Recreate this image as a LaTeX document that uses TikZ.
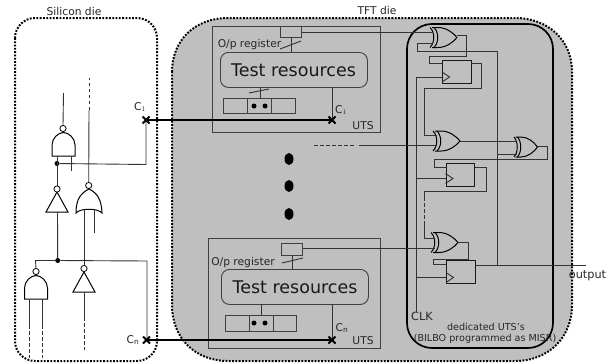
\documentclass[tikz,border=0pt]{standalone}
\usepackage{fontspec}
\setmainfont{DejaVu Sans}
\tikzset{
 wire/.style={draw=black!80,line width=0.9pt},
 gateline/.style={draw=black,line width=1pt},
 thickwire/.style={draw=black,line width=1.7pt},
 dashwire/.style={draw=black!80,line width=0.9pt,dash pattern=on 3.5pt off 2.5pt},
 dieline/.style={draw=black,line width=2pt,dash pattern=on 1.8pt off 1.5pt},
 boxed/.style={draw=black!75,line width=0.9pt,inner sep=0pt,anchor=north west},
 flipflop/.style={draw=black!90,line width=0.9pt,inner sep=0pt,anchor=north west,minimum width=28.5pt,minimum height=23pt},
 lbl/.style={inner sep=0pt,text=black!85,font=\fontsize{10.7pt}{12pt}\selectfont},
 small/.style={inner sep=0pt,text=black!85,font=\fontsize{9.6pt}{11pt}\selectfont},
 mid/.style={inner sep=0pt,text=black!85,font=\fontsize{11.3pt}{13pt}\selectfont},
 big/.style={inner sep=0pt,text=black!90,font=\fontsize{17.5pt}{19pt}\selectfont},
 dotj/.style={fill=black,draw=none,circle,minimum size=5pt,inner sep=0pt},
 smalldot/.style={fill=black,draw=none,circle,minimum size=5pt,inner sep=0pt},
 bubble/.style={draw=black,fill=white,line width=0.8pt,circle,minimum size=6.2pt,inner sep=0pt},
 xorgate/.pic={
  \draw[gateline] (0,-10) .. controls (5,-5) and (5,5) .. (0,10);
  \draw[gateline] (4,-10) .. controls (9,-5) and (9,5) .. (4,10);
  \draw[gateline] (2,-10) -- (8,-10) .. controls (16,-10) and (23,-5) .. (27,0) .. controls (23,5) and (16,10) .. (8,10) -- (2,10);
 },
 nandup/.pic={
  \draw[gateline] (-11.5,12) -- (-11.5,1) .. controls (-11.5,-6) and (-5,-11.5) .. (0,-11.5) .. controls (5,-11.5) and (11.5,-6) .. (11.5,1) -- (11.5,12) -- cycle;
 },
 norup/.pic={
  \draw[gateline] (0,-12) .. controls (8,-8) and (12.5,-2) .. (13,12) .. controls (9,7) and (-9,7) .. (-13,12) .. controls (-13,-2) and (-8,-8) .. (0,-12) -- cycle;
 },
 invup/.pic={
  \draw[gateline] (0,-10) -- (11,10) -- (-11,10) -- cycle;
 },
 clocktri/.pic={
  \draw[wire] (0,-5) -- (7.5,0) -- (0,5);
 },
 xcross/.pic={
  \draw[draw=black,line width=1.8pt] (-3.5,-3.5) -- (3.5,3.5) (-3.5,3.5) -- (3.5,-3.5);
 }
}
\begin{document}
\begin{tikzpicture}[x=1pt,y=-1pt]
\useasboundingbox (0,0) rectangle (611,364);
% dies
\path[fill=black!25] (172,72) .. controls (172,40) and (195,18) .. (228,18) -- (515,18) .. controls (548,18) and (572,40) .. (572,72) -- (572,305) .. controls (572,338) and (548,361) .. (515,361) -- (228,361) .. controls (195,361) and (172,338) .. (172,305) -- cycle;
\draw[dieline] (172,72) .. controls (172,40) and (195,18) .. (228,18) -- (515,18) .. controls (548,18) and (572,40) .. (572,72) -- (572,305) .. controls (572,338) and (548,361) .. (515,361) -- (228,361) .. controls (195,361) and (172,338) .. (172,305) -- cycle;
\draw[dieline,rounded corners=20pt] (15,18) rectangle (157,361);
\node[lbl] (silabel) at (74,12) {Silicon die};
\node[lbl] (tftlabel) at (377,10.5) {TFT die};
\draw[draw=black,line width=1.7pt,rounded corners=25pt] (407,24) rectangle (553,348);

% UTS 1
\node[boxed,minimum width=168pt,minimum height=106.5pt] (uts1) at (212,25.5) {};
\node[boxed,minimum width=21pt,minimum height=11pt] (op1) at (280,26) {};
\node[boxed,rounded corners=8pt,minimum width=147pt,minimum height=35pt] (tr1) at (220,52) {};
\node[big] (tr1t) at (293.5,70) {Test resources};
\node[boxed,minimum width=23.5pt,minimum height=15pt] (r1a) at (223,98) {};
\node[boxed,minimum width=24.5pt,minimum height=15pt] (r1b) at (246.5,98) {};
\node[boxed,minimum width=23.5pt,minimum height=15pt] (r1c) at (271,98) {};
\node[smalldot] (d1a) at (254,106) {};
\node[smalldot] (d1b) at (265,106) {};
\node[lbl] (op1t) at (249.5,45) {O/p register};
\node[lbl] (c1r) at (341,110) {C$_1$};
\node[lbl] (uts1t) at (363,126) {UTS};
\draw[wire] (291,37) -- (291,52);
\draw[wire] (280,49) -- (301,41);
\draw[wire] (260,87) -- (260,98);
\draw[wire] (249,93) -- (269,89);
\coordinate (x1r) at (332,120);
\draw[wire] (332,87) -- (x1r);

% UTS n
\node[boxed,minimum width=172pt,minimum height=110pt] (uts2) at (208,238) {};
\node[boxed,minimum width=21pt,minimum height=12pt] (op2) at (281,243) {};
\node[boxed,rounded corners=8pt,minimum width=147pt,minimum height=35pt] (tr2) at (221,269) {};
\node[big] (tr2t) at (295,287) {Test resources};
\node[boxed,minimum width=23.5pt,minimum height=16pt] (r2a) at (225,315) {};
\node[boxed,minimum width=24pt,minimum height=16pt] (r2b) at (248.5,315) {};
\node[boxed,minimum width=23.5pt,minimum height=16pt] (r2c) at (272.5,315) {};
\node[smalldot] (d2a) at (254,323) {};
\node[smalldot] (d2b) at (265,323) {};
\node[lbl] (op2t) at (243,263) {O/p register};
\node[lbl] (cnr) at (342,328) {C$_{\mathrm{n}}$};
\node[lbl] (uts2t) at (363,341) {UTS};
\draw[wire] (292,255) -- (292,269);
\draw[wire] (282,263) -- (303,258);
\draw[wire] (261,304) -- (261,315);
\coordinate (x2r) at (332,340);
\draw[wire] (332,304) -- (x2r);

% big dots
\fill (289,159) ellipse (4.5pt and 6pt);
\fill (289,186) ellipse (4.5pt and 6pt);
\fill (289,214) ellipse (4.5pt and 6pt);

% right column
\pic at (430,37.5) {xorgate};
\pic at (433,141) {xorgate};
\pic[xscale=0.87] at (514,147) {xorgate};
\pic at (431,242.5) {xorgate};
\node[flipflop] (ff1) at (442,59.5) {};
\node[flipflop] (ff2) at (445.5,163) {};
\node[flipflop] (ff3) at (446,260) {};
\pic at (442,77) {clocktri};
\pic at (445.5,178.5) {clocktri};
\pic at (446,277.5) {clocktri};
\coordinate (clkb) at (416.7,312);
\draw[wire] (op1.east |- 0,32) -- (433,32);
\draw[wire] (op2.east |- 0,248) -- (435,248);
\draw[dashwire] (314,145) -- (356,145);
\draw[wire] (359,145) -- (437,145);
\draw[wire] (457,35.5) -- (466.5,35.5) -- (466.5,56) -- (429.5,56) -- (429.5,63) -- (ff1.west |- 0,63);
\draw[wire] (433,43) -- (417.5,43) -- (417.5,51) -- (497,51) -- (497,265);
\draw[wire] (ff1.east |- 0,63.5) -- (481.5,63.5) -- (481.5,88) -- (424.5,88) -- (424.5,135.5) -- (437,135.5);
\draw[wire] (clkb) -- (416.7,77) -- (442,77);
\draw[wire] (416.7,178.5) -- (445.5,178.5);
\draw[wire] (416.7,277.5) -- (446,277.5);
\draw[wire] (460,141) -- (517,141);
\draw[wire] (497,154) -- (517,154);
\draw[wire] (537.5,146) -- (547,146) -- (547,159) -- (434,159) -- (434,167) -- (ff2.west |- 0,167);
\draw[wire] (ff2.east |- 0,167) -- (486.5,167) -- (486.5,191.5) -- (424.5,191.5) -- (424.5,197);
\draw[dashwire] (424.5,197) -- (424.5,222);
\draw[wire] (424.5,222) -- (424.5,238) -- (434,238);
\draw[wire] (458,242.5) -- (468.5,242.5) -- (468.5,259) -- (433.5,259) -- (433.5,264.5) -- (ff3.west |- 0,264.5);
\coordinate (outp) at (586,265);
\draw[wire] (ff3.east |- 0,265) -- (outp);
\node[mid] (outt) at (587.5,276) {output};
\node[mid] (clkt) at (422,316) {CLK};
\node[small] (dedt) at (486,327) {dedicated UTS’s};
\node[small] (bilt) at (485,339) {(BILBO programmed as MISR)};

% silicon gates
\pic at (63.5,144) {nandup};
\node[bubble] (b1) at (63,128.5) {};
\draw[wire] (63.5,93) -- (b1.north);
\pic at (57,202) {invup};
\node[bubble] (b2) at (57,189) {};
\pic at (89,201) {norup};
\node[bubble] (b3) at (88.7,185.5) {};
\pic at (36,287) {nandup};
\node[bubble] (b4) at (36,271.5) {};
\pic at (84,282) {invup};
\node[bubble] (b5) at (84,268.5) {};
\node[dotj] (j1) at (57,163.5) {};
\node[dotj] (j2) at (57.7,260.5) {};
\coordinate (x1l) at (146,120);
\coordinate (x2l) at (146.5,340);
\draw[wire] (57,156) -- (b2.north);
\draw[wire] (71,156) -- (71,171);
\draw[wire] (j1) -- (146,164.5) -- (x1l);
\draw[wire] (57.5,212) -- (j2);
\draw[wire] (b4.north) -- (35.5,260.5) -- (j2) -- (147,261) -- (147,340);
\draw[wire] (b3.north) -- (89,110);
\draw[dashwire] (89,110) -- (89,78);
\draw[wire] (84,209) -- (b5.north);
\draw[wire] (94,209) -- (94,233);
\draw[wire] (84,292) -- (84,317);
\draw[dashwire] (84,317) -- (84,350);
\draw[wire] (29,299) -- (29,325);
\draw[dashwire] (29,325) -- (29,358);
\draw[wire] (42,299) -- (42,325);
\draw[dashwire] (42,325) -- (42,358);
\node[lbl] (c1l) at (140,107) {C$_1$};
\node[lbl] (cnl) at (133,340) {C$_{\mathrm{n}}$};
% thick links
\draw[thickwire] (x1l) -- (x1r);
\draw[thickwire] (x2l) -- (x2r);
\pic at (x1l) {xcross};
\pic at (x2l) {xcross};
\pic at (x1r) {xcross};
\pic at (x2r) {xcross};
\end{tikzpicture}
\end{document}
